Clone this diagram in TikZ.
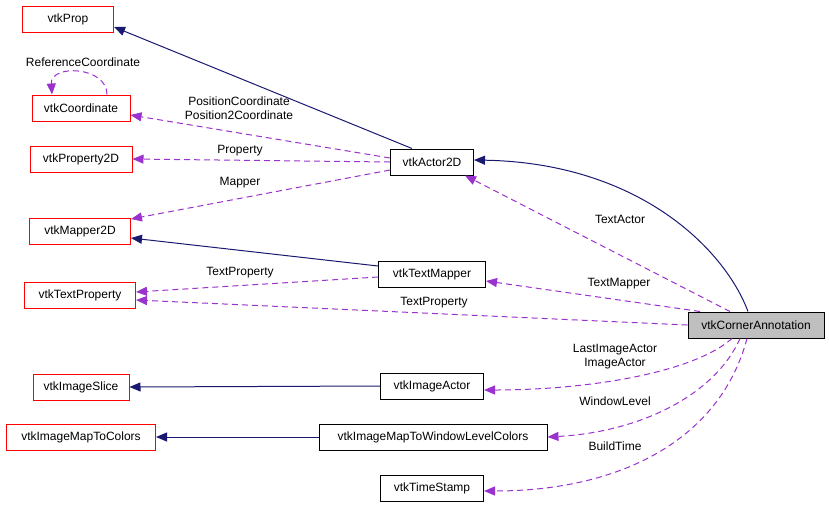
\documentclass[tikz,border=0pt]{standalone}
\usepackage{fontspec}
\setmainfont{Liberation Sans}
\usepackage{xcolor}
\usetikzlibrary{arrows.meta}
\definecolor{inhblue}{HTML}{191970}
\definecolor{usepurple}{HTML}{9A32CD}
\tikzset{cls/.style={draw=black,line width=1pt,minimum height=26pt,inner sep=2pt,
  font=\fontsize{12}{14}\selectfont},
 nodoc/.style={cls,draw=red},
 current/.style={cls,fill=gray!50},
 inherit/.style={draw=inhblue,line width=1pt,-{Triangle[length=11pt,width=9pt]}},
 uses/.style={draw=usepurple,line width=1pt,dash pattern=on 6pt off 4pt,
  -{Triangle[length=11pt,width=9pt]}},
 lbl/.style={inner sep=0pt,align=center,font=\fontsize{12}{14}\selectfont},
 }

\begin{document}
\begin{tikzpicture}[x=1pt,y=-1pt]
        \useasboundingbox (0,0) rectangle (829,507);
        % classes
        \node[nodoc, minimum width=91pt] (prop) at (68,19) {vtkProp};
        \node[nodoc, minimum width=98pt] (coord) at (81,108) {vtkCoordinate};
        \node[nodoc, minimum width=102pt] (prop2d) at (81,159) {vtkProperty2D};
        \node[nodoc, minimum width=101pt] (mapper2d) at (80,231) {vtkMapper2D};
        \node[nodoc, minimum width=111pt] (textprop) at (80,295) {vtkTextProperty};
        \node[nodoc, minimum width=96pt] (slice) at (81,387) {vtkImageSlice};
        \node[nodoc, minimum width=149pt] (maptocol) at (81,437) {vtkImageMapToColors};
        \node[cls, minimum width=83pt] (actor) at (432,162) {vtkActor2D};
        \node[cls, minimum width=107pt] (textmap) at (432,274) {vtkTextMapper};
        \node[cls, minimum width=103pt] (imgactor) at (432,386) {vtkImageActor};
        \node[cls, minimum width=228pt] (wlcol) at (433,437) {vtkImageMapToWindowLevelColors};
        \node[cls, minimum width=103pt] (stamp) at (432,488) {vtkTimeStamp};
        \node[current, minimum width=136pt] (corner) at (756,325) {vtkCornerAnnotation};
        % inheritance
        \draw[inherit] ([xshift=-20pt]actor.north) -- ([yshift=-8pt]prop.east);
        \draw[inherit] ([yshift=8pt]textmap.west) -- ([yshift=-7pt]mapper2d.east);
        \draw[inherit] (imgactor.west) -- (slice.east);
        \draw[inherit] (wlcol.west) -- (maptocol.east);
        \draw[inherit] ([xshift=-8pt]corner.north) .. controls (725,250) and (640,163) .. ([yshift=2pt]actor.east);
        % usage
        \draw[uses] ([xshift=26pt]coord.north) .. controls (107,66) and (50,64) .. ([xshift=-29pt]coord.north);
        \draw[uses] ([yshift=4pt]actor.west) -- ([yshift=-7pt]coord.east);
        \draw[uses] (actor.west) -- (prop2d.east);
        \draw[uses] ([yshift=-8pt]actor.west) -- ([yshift=12pt]mapper2d.east);
        \draw[uses] ([yshift=-3pt]textmap.west) -- ([yshift=3pt]textprop.east);
        \draw[uses] (corner.west) -- ([yshift=-5pt]textprop.east);
        \draw[uses] ([xshift=-26pt]corner.north) -- ([xshift=33pt]actor.south);
        \draw[uses] ([xshift=-56pt]corner.north) -- ([yshift=-7pt]textmap.east);
        \draw[uses] ([xshift=-24pt]corner.south) .. controls (690,375) and (580,390) .. ([yshift=-4pt]imgactor.east);
        \draw[uses] ([xshift=-16pt]corner.south) .. controls (715,395) and (640,432) .. (wlcol.east);
        \draw[uses] ([xshift=-9pt]corner.south) .. controls (720,440) and (620,491) .. ([yshift=-3pt]stamp.east);
        % labels
        \node[lbl] (lref) at (83,62) {ReferenceCoordinate};
        \node[lbl] (lpos) at (239,108) {PositionCoordinate\\Position2Coordinate};
        \node[lbl] (lprop) at (240,151) {Property};
        \node[lbl] (lmap) at (240,183) {Mapper};
        \node[lbl] (ltp1) at (240,273) {TextProperty};
        \node[lbl] (ltp2) at (434,303) {TextProperty};
        \node[lbl] (ltact) at (620,219) {TextActor};
        \node[lbl] (ltmap) at (619,284) {TextMapper};
        \node[lbl] (limg) at (615,357) {LastImageActor\\ImageActor};
        \node[lbl] (lwl) at (615,401) {WindowLevel};
        \node[lbl] (lbt) at (615,446) {BuildTime};
    \end{tikzpicture}
\end{document}
